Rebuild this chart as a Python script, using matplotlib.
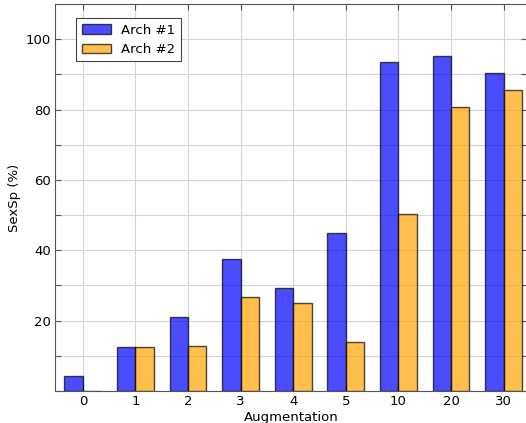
import numpy as np
import matplotlib
matplotlib.use('Agg')
import matplotlib.pyplot as plt

# augmentation factors and SexSp (%) for the two architectures
augment = ['0', '1', '2', '3', '4', '5', '10', '20', '30']
arch1 = [4.4, 12.6, 21.1, 37.5, 29.2, 45.0, 93.4, 95.1, 90.3]
arch2 = [0.0, 12.6, 12.9, 26.8, 25.0, 14.0, 50.3, 80.8, 85.5]

ytick_vals = [0, 10, 20, 30, 40, 50, 60, 70, 80, 90, 100]
ytick_labels = ['', '', '20', '', '40', '', '60', '', '80', '', '100']

plt.rcParams['font.family'] = 'DejaVu Sans'
plt.rcParams['font.size'] = 9.5

fig = plt.figure(figsize=(5.26, 4.23), dpi=100)
ax = fig.add_axes([55/526, 1 - 391/423, 472/526, 387/423])

x = np.arange(len(augment))
w = 0.35
ax.bar(x - w/2, arch1, w, color='b', alpha=0.7, edgecolor='k', linewidth=1, label='Arch #1', zorder=2)
ax.bar(x + w/2, arch2, w, color='orange', alpha=0.7, edgecolor='k', linewidth=1, label='Arch #2', zorder=2)

ax.set_xticks(x)
ax.set_xticklabels(augment)
ax.set_yticks(ytick_vals)
ax.set_yticklabels(ytick_labels)
ax.set_xlim(-0.53, 8.445)
ax.set_ylim(0, 110)
ax.grid(True, color='#d4d4d4', linewidth=0.8, zorder=0)
ax.set_axisbelow(True)
ax.tick_params(direction='in', top=True, right=True, length=4, color='#555555', pad=3)
for s in ax.spines.values():
    s.set_color('#555555')

ax.set_xlabel('Augmentation', labelpad=2)
ax.set_ylabel('SexSp (%)', labelpad=3)

leg = ax.legend(loc='upper left', bbox_to_anchor=(0.045, 0.963), fancybox=False,
                framealpha=1, edgecolor='#444444', borderaxespad=0, handlelength=2.2)
leg.get_frame().set_linewidth(0.8)

fig.savefig('out.png', dpi=100)
